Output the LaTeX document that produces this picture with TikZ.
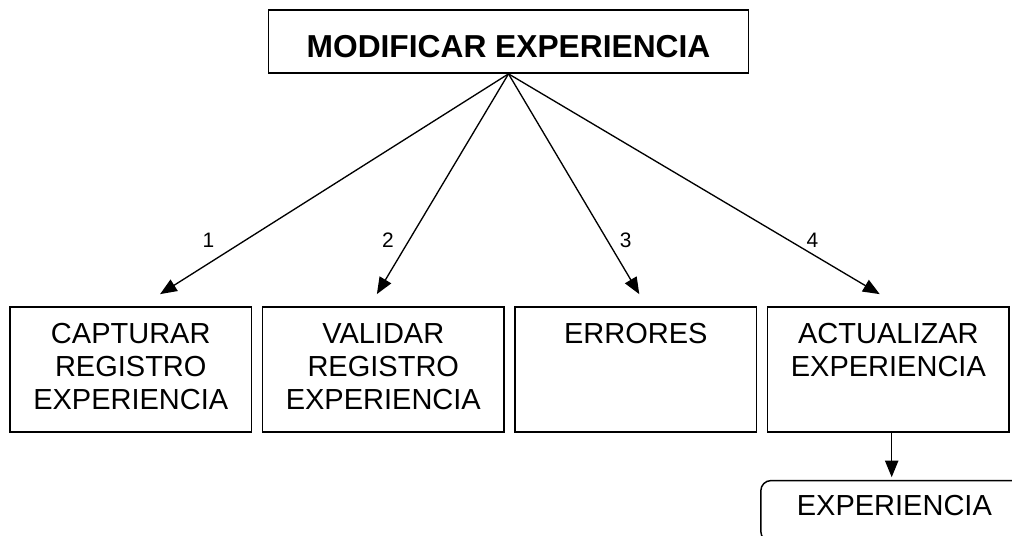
\documentclass[tikz,border=0pt]{standalone}
\usepackage{fontspec}
\setmainfont{Liberation Sans}
\usetikzlibrary{positioning,arrows.meta}

\begin{document}
\begin{tikzpicture}[x=0.75pt,y=-0.75pt,
  font=\fontsize{21.75}{24.75}\selectfont,
  proc/.style={draw,line width=1.3pt,minimum width=181.1pt,
               minimum height=93.75pt,inner sep=0pt},
  proctxt/.style={anchor=north,align=center,inner sep=0pt,yshift=-12.75pt},
  link/.style={-{Triangle[length=12.5pt,width=10pt]},line width=1pt},
  num/.style={font=\fontsize{15.7}{18}\selectfont,inner sep=0pt}
]
\path[use as bounding box,clip] (0,0) rectangle (1012,535);

% ==========  Title  ==========
\node[draw,line width=1.3pt,minimum width=360pt,minimum height=47.25pt,inner sep=0pt,
      text height=24.75pt,font=\fontsize{23.8}{26}\selectfont\bfseries]
  (mod) at (508.5,41.5) {MODIFICAR EXPERIENCIA};

% ==========  Processes  ==========
\node[proc] (cap) at (130.75,369.5) {};
\node[proc,right=7pt of cap] (val) {};
\node[proc,right=7pt of val] (err) {};
\node[proc,right=7pt of err] (act) {};
\node[proctxt] at (cap.north) {CAPTURAR\\REGISTRO\\EXPERIENCIA};
\node[proctxt] at (val.north) {VALIDAR\\REGISTRO\\EXPERIENCIA};
\node[proctxt] at (err.north) {ERRORES};
\node[proctxt] at (act.north) {ACTUALIZAR\\EXPERIENCIA};

% data store (open to the right)
\node[draw,line width=1.1pt,rounded corners=7.5pt,minimum width=200.25pt,
      minimum height=45.75pt,inner sep=0pt,text depth=9pt,
      below=35.25pt of act,xshift=4.5pt] (exp) {EXPERIENCIA};

% ==========  Arrows  ==========
\draw[link] (mod.south) -- ([xshift=22pt,yshift=9pt]cap.north)
  node[num,pos=0.754,xshift=-28pt] {1};
\draw[link] (mod.south) -- ([xshift=-4.8pt,yshift=9pt]val.north)
  node[num,pos=0.754,xshift=-15.9pt] {2};
\draw[link] (mod.south) -- ([xshift=2.6pt,yshift=9pt]err.north)
  node[num,pos=0.754,xshift=13.9pt] {3};
\draw[link] (mod.south) -- ([xshift=-6.5pt,yshift=9pt]act.north)
  node[num,pos=0.754,xshift=18pt] {4};

\draw[link,shorten >=2pt] ([xshift=2.5pt]act.south) -- ([xshift=2.5pt]act.south |- exp.north);

\end{tikzpicture}
\end{document}
